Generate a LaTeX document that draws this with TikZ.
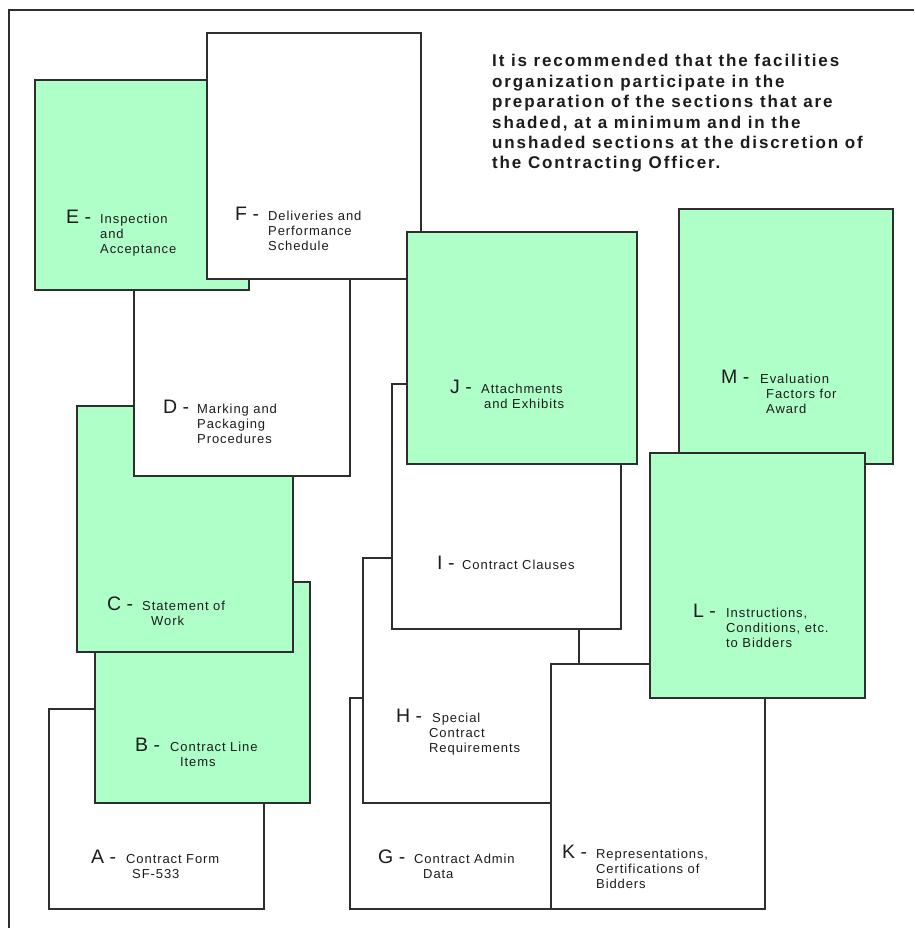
\documentclass[tikz,border=0pt]{standalone}
\usepackage{fontspec}
\setmainfont{Liberation Sans}
\newfontfamily\descfont{Liberation Sans}[LetterSpace=7]
\newfontfamily\notefont{Liberation Sans}[LetterSpace=11]
\definecolor{shade}{HTML}{AFFFC8}
\definecolor{edge}{HTML}{2E2E2E}
\definecolor{ink}{HTML}{1C1C1C}
% stack of lines whose baseline is the first line
\newcommand\stackl[2]{\vtop{\baselineskip=#1\lineskiplimit=-20pt\lineskip=0pt #2}}
\newcommand\rowl[2][0pt]{\hbox{\kern#1 #2}}
\tikzset{
  sheet/.style={draw=edge, line width=1.2pt, anchor=north west, inner sep=0pt, outer sep=0pt},
  plain/.style={sheet, fill=white},
  shaded/.style={sheet, fill=shade},
  letter/.style={anchor=base west, inner sep=0pt, text=ink, font=\fontsize{19.5}{20}\selectfont},
  desc/.style={anchor=base west, inner sep=0pt, text=ink, font=\descfont\fontsize{13}{15}\selectfont},
  note/.style={anchor=base west, inner sep=0pt, text=ink, font=\notefont\bfseries\fontsize{17}{20}\selectfont},
}
\begin{document}
\begin{tikzpicture}[x=1pt, y=-1pt]
\useasboundingbox (0,0) rectangle (914,928);
\fill[white] (0,0) rectangle (914,928);
% page frame
\coordinate (frameTR) at (914,10);
\coordinate (frameTL) at (9,10);
\coordinate (frameBL) at (9,928);
\draw[edge, line width=1.2pt] (frameTR) -- (frameTL) -- (frameBL);

% sections, back to front
\node[plain,  minimum width=215pt, minimum height=200pt] (A) at (49,709) {};
\node[shaded, minimum width=215pt, minimum height=221pt] (B) at (95,582) {};
\node[shaded, minimum width=216pt, minimum height=246pt] (C) at (77,406) {};
\node[plain,  minimum width=216pt, minimum height=245pt] (D) at (134,231) {};
\node[shaded, minimum width=214pt, minimum height=210pt] (E) at (35,80) {};
\node[plain,  minimum width=214pt, minimum height=246pt] (F) at (207,33) {};
\node[plain,  minimum width=216pt, minimum height=211pt] (G) at (350,698) {};
\node[plain,  minimum width=216pt, minimum height=245pt] (H) at (363,558) {};
\node[plain,  minimum width=229pt, minimum height=245pt] (I) at (392,384) {};
\node[shaded, minimum width=230pt, minimum height=232pt] (J) at (407,232) {};
\node[plain,  minimum width=214pt, minimum height=245pt] (K) at (551,664) {};
\node[shaded, minimum width=214pt, minimum height=255pt] (M) at (679,209) {};
\node[shaded, minimum width=215pt, minimum height=245pt] (L) at (650,453) {};

% section labels
\node[letter] (Aletter) at (91,863) {A -};
\node[desc] (Atext) at (126,863) {\stackl{15pt}{\rowl{Contract Form}\rowl[6pt]{SF-533}}};
\node[letter] (Bletter) at (135,751) {B -};
\node[desc] (Btext) at (170,751) {\stackl{15pt}{\rowl{Contract Line}\rowl[10pt]{Items}}};
\node[letter] (Cletter) at (107,610) {C -};
\node[desc] (Ctext) at (142,610) {\stackl{15pt}{\rowl{Statement of}\rowl[9pt]{Work}}};
\node[letter] (Dletter) at (163,413) {D -};
\node[desc] (Dtext) at (197,413) {\stackl{15pt}{\rowl{Marking and}\rowl{Packaging}\rowl{Procedures}}};
\node[letter] (Eletter) at (66,223) {E -};
\node[desc] (Etext) at (100,223) {\stackl{15pt}{\rowl{Inspection}\rowl{and}\rowl{Acceptance}}};
\node[letter] (Fletter) at (235,220) {F -};
\node[desc] (Ftext) at (268,220) {\stackl{15pt}{\rowl{Deliveries and}\rowl{Performance}\rowl{Schedule}}};
\node[letter] (Gletter) at (378,863) {G -};
\node[desc] (Gtext) at (414,863) {\stackl{15pt}{\rowl{Contract Admin}\rowl[9pt]{Data}}};
\node[letter] (Hletter) at (396,722) {H -};
\node[desc] (Htext) at (429,722) {\stackl{15pt}{\rowl[3pt]{Special}\rowl{Contract}\rowl{Requirements}}};
\node[letter] (Iletter) at (437,569) {I -};
\node[desc] (Itext) at (462,569) {Contract Clauses};
\node[letter] (Jletter) at (450,393) {J -};
\node[desc] (Jtext) at (481,393) {\stackl{15pt}{\rowl{Attachments}\rowl[3pt]{and Exhibits}}};
\node[letter] (Kletter) at (562,858) {K -};
\node[desc] (Ktext) at (596,858) {\stackl{15pt}{\rowl{Representations,}\rowl{Certifications of}\rowl{Bidders}}};
\node[letter] (Lletter) at (693,617) {L -};
\node[desc] (Ltext) at (726,617) {\stackl{15pt}{\rowl{Instructions,}\rowl{Conditions, etc.}\rowl{to Bidders}}};
\node[letter] (Mletter) at (721,383) {M -};
\node[desc] (Mtext) at (760,383) {\stackl{15pt}{\rowl{Evaluation}\rowl[6pt]{Factors for}\rowl[6pt]{Award}}};

% guidance note
\node[note] (note) at (492,67) {\stackl{20.4pt}{%
  \rowl{It is recommended that the facilities}%
  \rowl{organization participate in the}%
  \rowl{preparation of the sections that are}%
  \rowl{shaded, at a minimum and in the}%
  \rowl{unshaded sections at the discretion of}%
  \rowl{the Contracting Officer.}}};
\end{tikzpicture}
\end{document}
